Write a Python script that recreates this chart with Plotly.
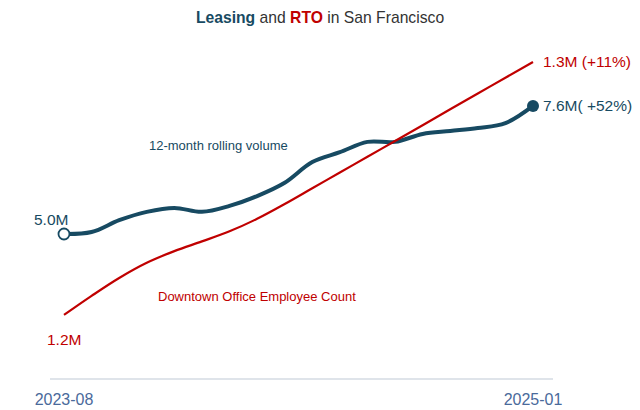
import plotly.graph_objects as go

# ---- data ----
months = ["2023-08", "2023-09", "2023-10", "2023-11", "2023-12", "2024-01",
          "2024-02", "2024-03", "2024-04", "2024-05", "2024-06", "2024-07",
          "2024-08", "2024-09", "2024-10", "2024-11", "2024-12", "2025-01"]
leasing_m = [5.00, 5.04, 5.28, 5.45, 5.53, 5.45, 5.57, 5.77, 6.04, 6.46,
             6.66, 6.87, 6.87, 7.03, 7.09, 7.15, 7.25, 7.60]
rto_m = [1.1700, 1.1798, 1.1890, 1.1968, 1.2028, 1.2078, 1.2130, 1.2194, 1.2270,
         1.2351, 1.2432, 1.2513, 1.2594, 1.2675, 1.2757, 1.2838, 1.2919, 1.3000]
tick_labels = [months[0], months[-1]]
leasing_name = "12-month rolling volume"
rto_name = "Downtown Office Employee Count"

TEAL = "#174a62"
RED = "#c00000"
TICK = "#4a6a9b"
FONT = "Liberation Sans, Arial, sans-serif"

fig = go.Figure()

fig.add_trace(go.Scatter(x=months, y=rto_m, mode="lines", yaxis="y2",
                         line=dict(color=RED, width=2.2, shape="spline", smoothing=1),
                         hoverinfo="skip", showlegend=False))
fig.add_trace(go.Scatter(x=months, y=leasing_m, mode="lines", yaxis="y",
                         line=dict(color=TEAL, width=4, shape="spline", smoothing=1),
                         hoverinfo="skip", showlegend=False))
fig.add_trace(go.Scatter(x=[months[0]], y=[leasing_m[0]], mode="markers",
                         marker=dict(size=11, color="white", line=dict(color=TEAL, width=1.8)),
                         hoverinfo="skip", showlegend=False))
fig.add_trace(go.Scatter(x=[months[-1]], y=[leasing_m[-1]], mode="markers",
                         marker=dict(size=12, color=TEAL),
                         hoverinfo="skip", showlegend=False))

lp = round((leasing_m[-1] / leasing_m[0] - 1) * 100)
rp = round((rto_m[-1] / rto_m[0] - 1) * 100)

ann = [
    dict(x=months[0], y=leasing_m[0], xref="x", yref="y", text=f"{leasing_m[0]:.1f}M",
         xanchor="center", yanchor="middle", xshift=-13, yshift=15,
         font=dict(color=TEAL, size=15.5, family=FONT), showarrow=False),
    dict(x=months[0], y=rto_m[0], xref="x", yref="y2", text=f"{rto_m[0]:.1f}M",
         xanchor="center", yanchor="middle", xshift=0, yshift=-25,
         font=dict(color=RED, size=15.5, family=FONT), showarrow=False),
    dict(x=months[-1], y=rto_m[-1], xref="x", yref="y2", text=f"{rto_m[-1]:.1f}M (+{rp}%)",
         xanchor="left", yanchor="middle", xshift=8, yshift=0,
         font=dict(color=RED, size=15.5, family=FONT), showarrow=False),
    dict(x=months[-1], y=leasing_m[-1], xref="x", yref="y", text=f"{leasing_m[-1]:.1f}M( +{lp}%)",
         xanchor="left", yanchor="middle", xshift=8, yshift=0,
         font=dict(color=TEAL, size=15.5, family=FONT), showarrow=False),
    dict(x=0.334, y=0.689, xref="paper", yref="paper", text=leasing_name,
         xanchor="center", yanchor="middle",
         font=dict(color=TEAL, size=13, family=FONT), showarrow=False),
    dict(x=0.412, y=0.240, xref="paper", yref="paper", text=rto_name,
         xanchor="center", yanchor="middle",
         font=dict(color=RED, size=13, family=FONT), showarrow=False),
]

title_text = (f"<b><span style='color:{TEAL}'>Leasing</span></b> and "
              f"<b><span style='color:{RED}'>RTO</span></b> in San Francisco")

fig.update_layout(
    width=640, height=410,
    margin=dict(l=50, r=87, t=40, b=32, autoexpand=False),
    paper_bgcolor="white", plot_bgcolor="white",
    font=dict(family=FONT, color="#333333"),
    title=dict(text=title_text, x=0.5, xanchor="center", y=1 - 18 / 410, yanchor="middle",
               font=dict(size=15.7, family=FONT, color="#333333")),
    xaxis=dict(type="category", range=[-0.507, 17.725],
               tickvals=tick_labels, ticktext=tick_labels,
               showgrid=False, zeroline=False, showline=True,
               linecolor="#dfe4ea", linewidth=2, ticks="",
               ticklabelstandoff=6, automargin=False,
               tickfont=dict(size=16, color=TICK, family=FONT)),
    yaxis=dict(range=[2.077, 8.938], visible=False, showgrid=False, automargin=False),
    yaxis2=dict(range=[1.1376, 1.3113], visible=False, showgrid=False,
                overlaying="y", side="right", automargin=False),
    annotations=ann,
    showlegend=False,
)

fig.write_html("out.html")
